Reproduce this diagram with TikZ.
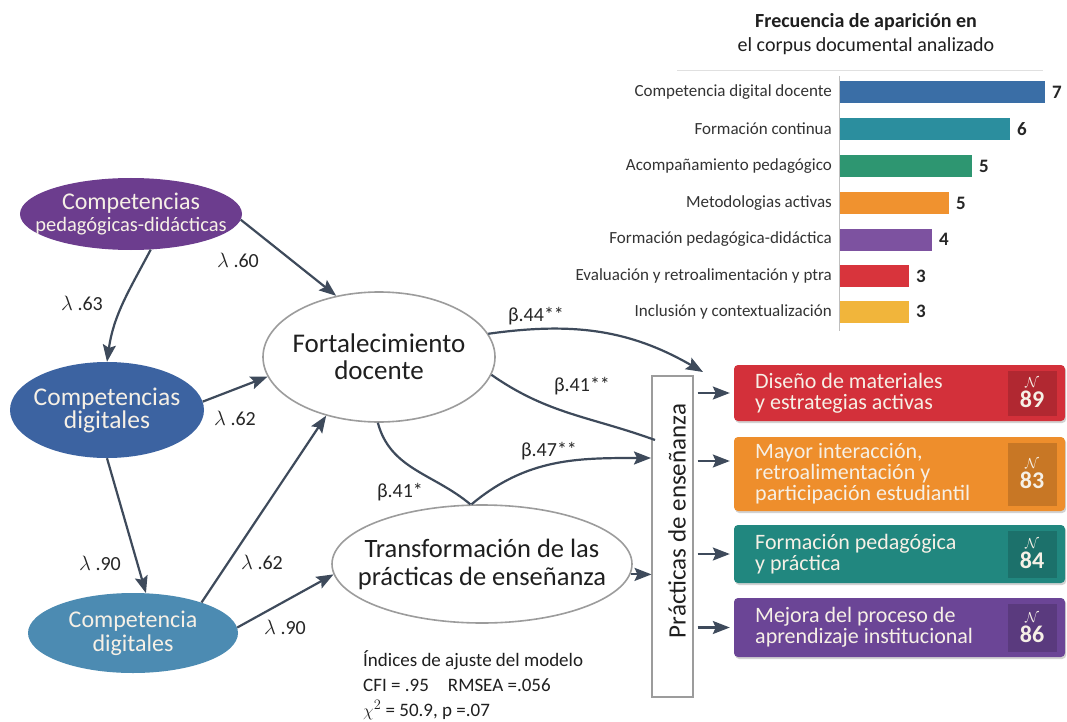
\documentclass[tikz,border=0pt]{standalone}
\usepackage{fontspec}
\setmainfont{Carlito}
\usetikzlibrary{arrows.meta,shapes.geometric,shadows}

\definecolor{arrgray}{HTML}{3E4A5B}
\definecolor{edgegray}{HTML}{9C9C9C}
\definecolor{txtlight}{HTML}{F6F0E6}
\definecolor{cpurple}{HTML}{6C3D8E}
\definecolor{cblue}{HTML}{3C63A1}
\definecolor{csteel}{HTML}{4C8BB2}
\definecolor{barblue}{HTML}{3A6EA6}
\definecolor{barteal}{HTML}{2B8E9E}
\definecolor{bargreen}{HTML}{2E9671}
\definecolor{barorange}{HTML}{F0922F}
\definecolor{barpurple}{HTML}{7D52A0}
\definecolor{barred}{HTML}{D8343C}
\definecolor{baryellow}{HTML}{F1B53B}
\definecolor{boxred}{HTML}{D3303A}
\definecolor{boxorange}{HTML}{EE8E2C}
\definecolor{boxteal}{HTML}{21877F}
\definecolor{boxpurple}{HTML}{6B4596}

\def\fsz#1#2{\fontsize{#1}{#2}\selectfont}
\def\freqbar(#1)(#2:#3)[#4]#5#6{
	\node[barlab] (#1) at (832,-#2) {#5};
	\fill[#4] (840,-#2+11) rectangle (#3,-#2-11);
	\node[barnum] (#1n) at (#3+7,-#2) {#6};}
\def\outcome(#1)(#2:#3)[#4]#5#6{
	\node[outbox,fill=#4,minimum height=#3pt] (#1) at (899.5,-#2) {};
	\node[outtxt] (#1t) at (755,-#2) {#5};
	\node[nbox,fill=#4!84!black,minimum height=#3pt-11pt] (#1n) at (1032,-#2)
	{{\mdseries\fsz{15}{15}$\mathcal{N}$}\\#6};}

\begin{document}
\begin{tikzpicture}[x=1pt,y=1pt,
	arr/.style={draw=arrgray,line width=2.2pt,-{Stealth[length=17pt,width=13pt,inset=3pt]}},
	lnk/.style={draw=arrgray,line width=2.2pt},
	latent/.style={ellipse,inner xsep=-25pt,inner ysep=0pt,align=center,text=txtlight},
	factor/.style={ellipse,draw=edgegray,line width=1.6pt,fill=white,inner xsep=-25pt,inner ysep=0pt,
		align=center,text=black!88},
	coef/.style={inner sep=0pt,text=black!85,font=\fsz{20}{22}},
	barlab/.style={anchor=east,inner sep=0pt,text=black!80,font=\fsz{17}{20}},
	barnum/.style={anchor=west,inner sep=0pt,text=black!85,font=\bfseries\fsz{19}{20}},
	outbox/.style={rounded corners=4pt,minimum width=331pt,inner sep=0pt,
		drop shadow={shadow xshift=1.2pt,shadow yshift=-2pt,opacity=0.35}},
	outtxt/.style={anchor=west,inner sep=0pt,align=left,text=txtlight,font=\fsz{22}{21}},
	nbox/.style={minimum width=49pt,inner sep=0pt,align=center,text=txtlight,font=\bfseries\fsz{24}{20}}]

	\fill[white] (0,0) rectangle (1067,-722);
	\useasboundingbox (0,0) rectangle (1067,-722);

	% frequency chart
	\node[align=center,text=black!88,font=\fsz{20}{24}] (title) at (866,-34)
	{{\bfseries Frecuencia de aparición en}\\el corpus documental analizado};
	\draw[black!12,line width=0.8pt] (677,-70) -- (1043,-70);
	\draw[black!25,line width=0.8pt] (839,-76) -- (839,-331);
	\freqbar(cdd)(92.5:1045)[barblue]{Competencia digital docente}{7}
	\freqbar(fco)(129:1010)[barteal]{Formación continua}{6}
	\freqbar(aco)(166:972)[bargreen]{Acompañamiento pedagógico}{5}
	\freqbar(met)(203:949)[barorange]{Metodologias activas}{5}
	\freqbar(fpd)(239.5:932)[barpurple]{Formación pedagógica-didáctica}{4}
	\freqbar(eva)(276:909)[barred]{Evaluación y retroalimentación y ptra}{3}
	\freqbar(inc)(311.5:909)[baryellow]{Inclusión y contextualización}{3}

	% structural model
	\node[latent,fill=cpurple,minimum width=222pt,minimum height=72pt,font=\fsz{24}{22}] (ped)
	at (131,-214) {Competencias\\{\fsz{20.5}{22}pedagógicas-didácticas}};
	\node[latent,fill=cblue,minimum width=194pt,minimum height=96pt,font=\fsz{25.5}{23}] (dig)
	at (107,-410) {Competencias\\digitales};
	\node[latent,fill=csteel,minimum width=210pt,minimum height=80pt,font=\fsz{24}{24}] (comp)
	at (133,-633) {Competencia\\digitales};
	\node[factor,minimum width=232pt,minimum height=130pt,font=\fsz{27}{27}] (fort) at (379,-357)
	{Fortalecimiento\\docente};
	\node[factor,minimum width=300pt,minimum height=118pt,font=\fsz{26.5}{28}] (trans) at (482,-564)
	{Transformación de las\\prácticas de enseñanza};

	\node[draw=edgegray,line width=1.3pt,fill=white,minimum width=41pt,minimum height=321pt,inner sep=0pt]
	(prac) at (672.5,-536.5) {};
	\node[rotate=90,inner sep=0pt,text=black!88,font=\fsz{25}{25}] (pracl) at (677,-521)
	{Prácticas de enseñanza};

	\coordinate (a44) at (703,-372);
	\coordinate (p41) at (655,-440);
	\coordinate (p47) at (651,-458);

	\draw[arr] (ped.-3) -- (fort.125);
	\draw[arr] (ped.-61) to[out=-118,in=82] (dig.north);
	\draw[arr] (dig.5) -- (fort.190);
	\draw[arr] (dig.south) -- (comp.72);
	\draw[arr] (comp.24) -- (fort.228);
	\draw[arr] (comp.3) -- (trans.184);
	\draw[lnk] (fort.-91) to[out=-75,in=140] (trans.101);
	\draw[arr] (fort.12) to[out=8,in=150] (a44);
	\draw[lnk] (fort.-9) to[out=-35,in=160] (p41);
	\draw[arr] (trans.100) to[out=40,in=180] (p47);
	\draw[arr] (trans.-4) -- ++(21,0);

	\node[coef] (l60) at (238,-260) {$\lambda$ .60};
	\node[coef] (l63) at (82,-303) {$\lambda$ .63};
	\node[coef] (l62a) at (235,-418) {$\lambda$ .62};
	\node[coef] (l90a) at (100,-563) {$\lambda$ .90};
	\node[coef] (l62b) at (262,-562) {$\lambda$ .62};
	\node[coef] (l90b) at (285,-627) {$\lambda$ .90};
	\node[coef] (b44) at (536,-316) {β.44**};
	\node[coef] (b41a) at (582,-386) {β.41**};
	\node[coef] (b47) at (549,-451) {β.47**};
	\node[coef] (b41b) at (400,-492) {β.41*};

	% outcomes
	\outcome(o1)(393:56)[boxred]{Diseño de materiales\\y estrategias activas}{89}
	\outcome(o2)(474:74)[boxorange]{Mayor interacción,\\retroalimentación y\\participación estudiantil}{83}
	\outcome(o3)(554:58)[boxteal]{Formación pedagógica\\y práctica}{84}
	\outcome(o4)(627.5:59)[boxpurple]{Mejora del proceso de\\aprendizaje institucional}{86}

	\draw[arr,shorten >=4pt] (prac.east |- o1.west) ++(4,0) -- (o1.west);
	\draw[arr,shorten >=4pt] (prac.east |- o2.west) ++(4,13) -- ([yshift=13pt]o2.west);
	\draw[arr,shorten >=4pt] (prac.east |- o3.west) ++(4,0) -- (o3.west);
	\draw[arr,shorten >=4pt] (prac.east |- o4.west) ++(4,0) -- (o4.west);

	\node[anchor=north west,align=left,inner sep=0pt,text=black!88,font=\fsz{19}{25}] (fit)
	at (363,-650) {Índices de ajuste del modelo\\CFI = .95\quad RMSEA =.056\\$\chi^2$ = 50.9, p =.07};
\end{tikzpicture}
\end{document}
